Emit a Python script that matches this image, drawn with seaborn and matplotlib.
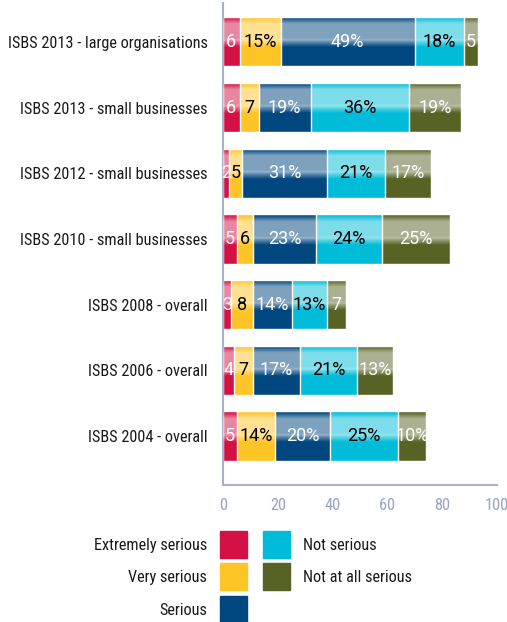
import numpy as np
import pandas as pd
import matplotlib
matplotlib.use("Agg")
import matplotlib.pyplot as plt
import seaborn as sns
from matplotlib.patches import Rectangle

categories = ["ISBS 2013 - large organisations", "ISBS 2013 - small businesses",
              "ISBS 2012 - small businesses", "ISBS 2010 - small businesses",
              "ISBS 2008 - overall", "ISBS 2006 - overall", "ISBS 2004 - overall"]
extremely_serious = [6, 6, 2, 5, 3, 4, 5]
very_serious = [15, 7, 5, 6, 8, 7, 14]
serious = [49, 19, 31, 23, 14, 17, 20]
not_serious = [18, 36, 21, 24, 13, 21, 25]
not_at_all_serious = [5, 19, 17, 25, 7, 13, 10]

series_names = ["Extremely serious", "Very serious", "Serious", "Not serious", "Not at all serious"]
series_values = [extremely_serious, very_serious, serious, not_serious, not_at_all_serious]
colors = ["#D31145", "#FFC425", "#00467F", "#00BCD8", "#566325"]
text_colors = ["white", "black", "white", "black", "white"]
x_ticks = [0, 20, 40, 60, 80, 100]

sns.set_style("white")
plt.rcParams["font.family"] = ["Roboto Condensed", "DejaVu Sans"]

fig = plt.figure(figsize=(5.07, 6.22), dpi=100)
ax = fig.add_axes([0.440, 0.220, 0.540, 0.775])

df = pd.DataFrame({name: vals for name, vals in zip(series_names, series_values)})
df["category"] = categories
cum = df[series_names].cumsum(axis=1)

# stacked bars: draw cumulative totals from longest to shortest
for i in reversed(range(len(series_names))):
    sns.barplot(x=cum[series_names[i]], y=df["category"], color=colors[i],
                saturation=1, width=0.75, orient="h", ax=ax, zorder=2)

# glossy highlight over each row, clipped to the full bar
t = np.linspace(0, 1, 200)
alpha = np.interp(t, [0, 0.05, 0.15, 0.44, 0.48, 0.5, 0.62, 1.0],
                  [0, 0.1, 0.5, 0.5, 0.6, 0.45, 0.0, 0.0])
grad = np.zeros((len(t), 1, 4))
grad[:, :, :3] = 1.0
grad[:, 0, 3] = alpha
n_rows = len(categories)
for p in ax.patches[:n_rows]:
    x0, y0, w, h = p.get_x(), p.get_y(), p.get_width(), p.get_height()
    im = ax.imshow(grad, extent=(x0, x0 + w, y0 + h, y0), origin="upper",
                   aspect="auto", zorder=3, interpolation="bilinear")
    im.set_clip_path(p)

# segment labels
for r in range(n_rows):
    left = 0
    for i, name in enumerate(series_names):
        v = df.loc[r, name]
        label = f"{v}%" if v >= 10 else f"{v}"
        ax.text(left + v / 2, r, label, ha="center", va="center",
                color=text_colors[i], fontsize=13, family=["Roboto", "DejaVu Sans"],
                zorder=4)
        left += v

ax.set_xlim(0, 100)
ax.set_ylim(6.75, -0.59)
ax.set_xticks(x_ticks)
ax.set_xlabel("")
ax.set_ylabel("")
ax.tick_params(axis="x", direction="in", length=5, width=1.2, color="#A9B0CA",
               labelcolor="#9AA3C2", labelsize=11.8, pad=9)
ax.tick_params(axis="y", length=0, labelsize=11.7, labelcolor="#1a1a1a", pad=11)
for s in ["top", "right"]:
    ax.spines[s].set_visible(False)
for s in ["left", "bottom"]:
    ax.spines[s].set_color("#A9B0CA")
    ax.spines[s].set_linewidth(1.5)

# legend
W, H = 507, 622
def px(x, y):
    return x / W, 1 - y / H

box = 27
left_items = [(0, 531), (1, 563), (2, 596)]
right_items = [(3, 531), (4, 563)]
for i, y in left_items:
    fig.add_artist(Rectangle(px(220, y + box), box / W, box / H, color=colors[i],
                             transform=fig.transFigure))
    fig.text(*px(207, y + box / 2 + 1), series_names[i], ha="right", va="center",
             fontsize=11.7, color="#1a1a1a")
for i, y in right_items:
    fig.add_artist(Rectangle(px(263, y + box), box / W, box / H, color=colors[i],
                             transform=fig.transFigure))
    fig.text(*px(303, y + box / 2 + 1), series_names[i], ha="left", va="center",
             fontsize=11.7, color="#1a1a1a")

fig.savefig("out.png", dpi=100)
